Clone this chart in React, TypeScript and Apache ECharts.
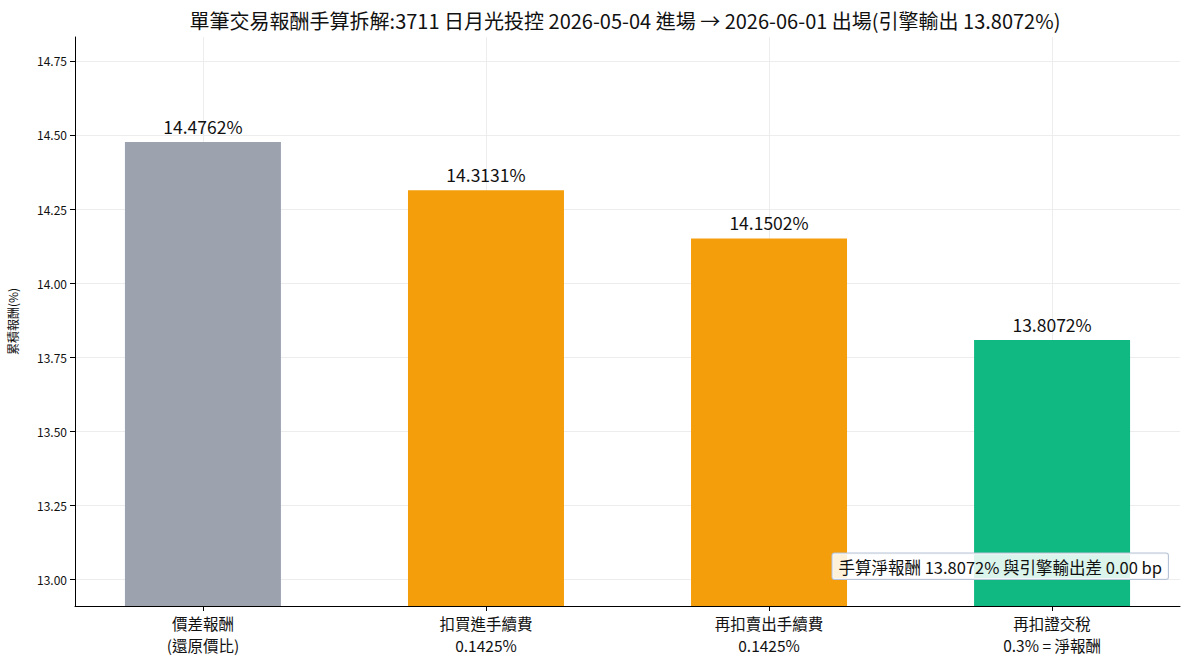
import React, { useEffect, useRef } from "react";
import * as echarts from "echarts";

const categories = ["價差報酬\n(還原價比)", "扣買進手續費\n0.1425%", "再扣賣出手續費\n0.1425%", "再扣證交稅\n0.3% = 淨報酬"];
const values = [14.4762, 14.3131, 14.1502, 13.8072];
const barColors = ["#9ca3af", "#f59e0b", "#f59e0b", "#10b981"];
const yTicks = [13.0, 13.25, 13.5, 13.75, 14.0, 14.25, 14.5, 14.75];
const xPositions = [0, 1, 2, 3];
const titleText = "單筆交易報酬手算拆解:3711 日月光投控 2026-05-04 進場 → 2026-06-01 出場(引擎輸出 13.8072%)";
const noteText = "手算淨報酬 13.8072% 與引擎輸出差 0.00 bp";
const yAxisName = "累積報酬(%)";

const FONT = "'Noto Sans CJK TC', 'Noto Sans', sans-serif";

export default function App() {
  const ref = useRef<HTMLDivElement>(null);
  useEffect(() => {
    document.body.style.margin = "0";
    const chart = echarts.init(ref.current!, null, { renderer: "svg" });
    chart.setOption({
      animation: false,
      backgroundColor: "#ffffff",
      textStyle: { fontFamily: FONT },
      title: {
        text: titleText,
        left: 620,
        top: 5,
        textAlign: "center",
        textStyle: { fontSize: 20, fontWeight: "normal", color: "#111", fontFamily: FONT },
      },
      grid: { left: 75, right: 9, top: 37, bottom: 59, outerBoundsMode: "none", containLabel: false },
      xAxis: {
        type: "value",
        min: -0.452,
        max: 3.452,
        axisLine: { show: true, onZero: false, lineStyle: { color: "#000", width: 1 } },
        axisTick: { show: true, customValues: xPositions, length: 5, lineStyle: { color: "#000" } },
        axisLabel: {
          customValues: xPositions,
          margin: 6,
          fontSize: 15.5,
          lineHeight: 22,
          color: "#111",
          fontFamily: FONT,
          formatter: (v: number) => categories[Math.round(v)] ?? "",
        },
        splitLine: { show: true, lineStyle: { color: "#e8e8e8", width: 0.8 } },
      },
      yAxis: {
        type: "value",
        min: 12.909,
        max: 14.831,
        name: yAxisName,
        nameLocation: "middle",
        nameGap: 57,
        nameRotate: 90,
        nameTextStyle: { fontSize: 12, color: "#111", fontFamily: FONT },
        axisLine: { show: true, onZero: false, lineStyle: { color: "#000", width: 1 } },
        axisTick: { show: true, customValues: yTicks, length: 5, lineStyle: { color: "#000" } },
        axisLabel: {
          customValues: yTicks,
          fontSize: 12,
          color: "#111",
          margin: 8,
          fontFamily: FONT,
          formatter: (v: number) => v.toFixed(2),
        },
        splitLine: { show: true, lineStyle: { color: "#e8e8e8", width: 0.8 } },
      },
      series: [
        {
          type: "bar",
          barWidth: 156,
          data: values.map((v, i) => ({
            value: [xPositions[i], v],
            itemStyle: { color: barColors[i] },
          })),
          label: {
            show: true,
            position: "top",
            distance: 7,
            fontSize: 17.5,
            color: "#111",
            fontFamily: FONT,
            formatter: (p: any) => p.value[1].toFixed(4) + "%",
          },
        },
      ],
      graphic: [
        {
          type: "text",
          right: 20,
          bottom: 85,
          z: 100,
          style: {
            text: noteText,
            fontSize: 16.5,
            fill: "#111",
            fontFamily: FONT,
            backgroundColor: "rgba(255,255,255,0.85)",
            borderColor: "#b8c4d6",
            borderWidth: 1,
            borderRadius: 2,
            padding: [5, 6, 4, 6],
          },
        },
      ],
    });
    return () => chart.dispose();
  }, []);
  return <div ref={ref} style={{ width: 1189, height: 665 }} />;
}
